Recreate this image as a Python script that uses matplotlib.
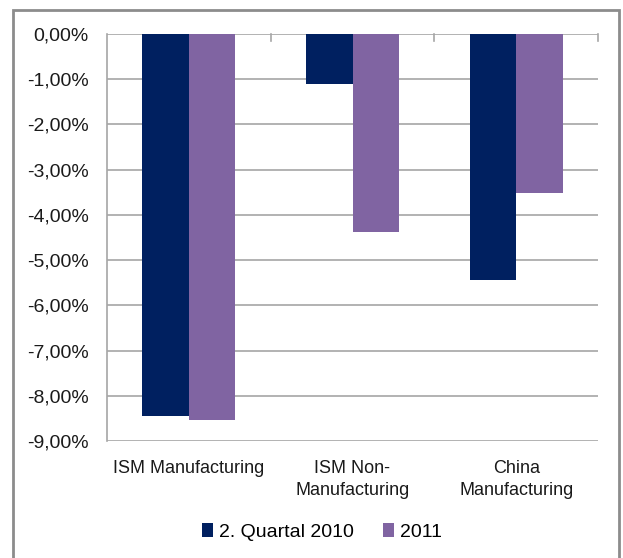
import matplotlib
matplotlib.use("Agg")
import matplotlib.pyplot as plt
import numpy as np
from matplotlib.patches import Rectangle

plt.rcParams['font.family'] = ['Liberation Sans', 'DejaVu Sans']

categories = ['ISM Manufacturing', 'ISM Non-\nManufacturing', 'China\nManufacturing']
series_names = ['2. Quartal 2010', '2011']
q2_2010 = [-8.45, -1.11, -5.44]
y2011 = [-8.54, -4.38, -3.52]
yticks = [0, -1, -2, -3, -4, -5, -6, -7, -8, -9]
colors = ['#002060', '#8064A2']

fig = plt.figure(figsize=(6.23, 5.58), dpi=100)
ax = fig.add_axes([107/623, 1 - 441/558, (598 - 107)/623, (441 - 34)/558])

x = np.arange(len(categories))
w = 0.285
ax.bar(x - w/2, q2_2010, w, color=colors[0], label=series_names[0], zorder=3)
ax.bar(x + w/2, y2011, w, color=colors[1], label=series_names[1], zorder=3)

ax.set_xlim(-0.5, 2.5)
ax.set_ylim(-9, 0)
ax.set_yticks(yticks)
ax.set_yticklabels([('%.2f%%' % v).replace('.', ',') for v in yticks])
ax.yaxis.grid(True, color='#A6A6A6', linewidth=1.2, zorder=0)
ax.tick_params(axis='y', length=0, labelsize=14, pad=13, colors='#1a1a1a')

ax.set_xticks([])
for s in ['top', 'right', 'bottom']:
    ax.spines[s].set_visible(False)
ax.spines['left'].set_color('#A6A6A6')
ax.spines['left'].set_linewidth(1.2)

# category axis sits at 0 with small ticks at the boundaries
for b in [0.5, 1.5, 2.5]:
    ax.plot([b, b], [0, -0.15], color='#A6A6A6', lw=1.2, clip_on=False, zorder=2)

for i, c in enumerate(categories):
    ax.text(i, -9.42, c, ha='center', va='top', fontsize=13, color='#1a1a1a',
            linespacing=1.38)

fig.legend(loc='center', bbox_to_anchor=(322/623, 1 - 532/558), ncol=2, frameon=False,
           fontsize=14, handlelength=0.55, handleheight=0.75, handletextpad=0.3,
           columnspacing=1.5, borderpad=0)

fig.patches.append(Rectangle((13/623, -0.05), (619 - 13)/623, 1.05 - 10/558,
                             transform=fig.transFigure, fill=False,
                             edgecolor='#8c8c8c', linewidth=2))

fig.savefig('out.png', dpi=100)
